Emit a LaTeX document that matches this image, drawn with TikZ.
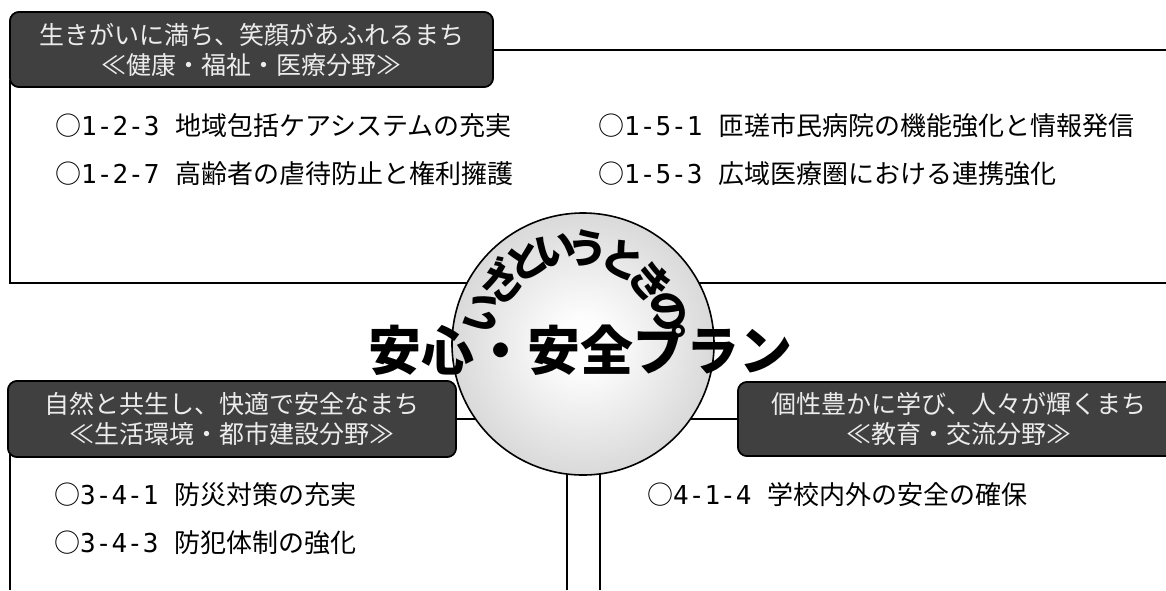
\documentclass[tikz,border=0pt]{standalone}
\usepackage{fontspec}
\setmainfont{Noto Sans CJK JP}
\newfontfamily\monofont{DejaVu Sans Mono}
\definecolor{labelfill}{RGB}{64,64,64}
\definecolor{labeltext}{RGB}{236,236,236}
\definecolor{balledge}{RGB}{155,155,155}
\definecolor{ballmid}{RGB}{212,212,212}
\definecolor{ballcore}{RGB}{253,253,253}
\pgfdeclareradialshading{ballshade}{\pgfpointorigin}{color(0bp)=(ballcore); color(5bp)=(ballcore); color(28bp)=(ballmid); color(50bp)=(balledge)}
\newcommand\numbox[1]{\makebox[120pt][l]{○{\monofont #1}}}
\tikzset{
  frame/.style={line width=2pt},
  lbl/.style={draw=black, line width=1.6pt, fill=labelfill, rounded corners=9pt,
    text=labeltext, align=center, inner sep=0pt,
    font=\fontsize{25}{30}\selectfont},
  item/.style={anchor=west, inner sep=0pt, font=\fontsize{26}{30}\selectfont},
  ball/.style={circle, minimum size=262pt, inner sep=0pt, draw=black, line width=1.6pt,
    shade, shading=ballshade},
  arcch/.style={inner sep=0pt, font=\fontsize{41}{41}\selectfont\bfseries},
  bigtext/.style={inner sep=0pt, font=\fontsize{53}{60}\selectfont\bfseries}
}
\begin{document}
\begin{tikzpicture}[x=1pt,y=-1pt]
\useasboundingbox (0,0) rectangle (1166,590);
\fill[white] (0,0) rectangle (1166,590);
\clip (0,0) rectangle (1166,590);
% label nodes (placed first so that frames can refer to them; redrawn later on top)
\path (251.5,49.5) node[lbl, minimum width=483pt, minimum height=75pt] (top) {};
\path (232,419) node[lbl, minimum width=448pt, minimum height=76pt] (left) {};
\path (959,419) node[lbl, minimum width=442pt, minimum height=74pt] (right) {};
% frame coordinates
\coordinate (tr) at (1166,49.5);
\coordinate (tbl) at (10,283);
\coordinate (tbr) at (1166,283);
\coordinate (ttl) at (10,80);
\coordinate (blt) at (10,450);
\coordinate (blb) at (10,590);
\coordinate (vlt) at (567,420);
\coordinate (vlb) at (567,590);
\coordinate (vrt) at (600,420);
\coordinate (vrb) at (600,590);
% circle position
\coordinate (cc) at (583,344);
% frames
\draw[frame] (top.east) -- (tr);
\draw[frame] (ttl) -- (tbl) -- (tbr);
\draw[frame] (blt) -- (blb);
\draw[frame] (left.east) -- (left.east -| cc);
\draw[frame] (right.west) -- (right.west -| cc);
\draw[frame] (vlt) -- (vlb);
\draw[frame] (vrt) -- (vrb);
% ball
\node[ball] (c) at (cc) {};
% arc text
\begin{scope}[shift={(576,347)}]
\foreach \ch/\ang [count=\i] in {い/160,ざ/139,と/120,い/102,う/83,と/62,き/41,の/21}
  \node[arcch, rotate=\ang-90] (a\i) at (-\ang:99) {\ch};
\end{scope}
% big title
\node[bigtext] (title) at (580,350) {安心・安全プラン};
% labels with text
\node[lbl, minimum width=483pt, minimum height=75pt] (topL) at (top) {生きがいに満ち、笑顔があふれるまち\\≪健康・福祉・医療分野≫};
\node[lbl, minimum width=448pt, minimum height=76pt] (leftL) at (left) {自然と共生し、快適で安全なまち\\≪生活環境・都市建設分野≫};
\node[lbl, minimum width=442pt, minimum height=74pt] (rightL) at (right) {個性豊かに学び、人々が輝くまち\\≪教育・交流分野≫};
% items
\node[item] (i1) at (55,126) {\numbox{1-2-3}地域包括ケアシステムの充実};
\node[item] (i2) at (55,174) {\numbox{1-2-7}高齢者の虐待防止と権利擁護};
\node[item] (i3) at (598,126) {\numbox{1-5-1}匝瑳市民病院の機能強化と情報発信};
\node[item] (i4) at (598,174) {\numbox{1-5-3}広域医療圏における連携強化};
\node[item] (i5) at (54,495) {\numbox{3-4-1}防災対策の充実};
\node[item] (i6) at (54,543) {\numbox{3-4-3}防犯体制の強化};
\node[item] (i7) at (647,495) {\numbox{4-1-4}学校内外の安全の確保};
\end{tikzpicture}
\end{document}
